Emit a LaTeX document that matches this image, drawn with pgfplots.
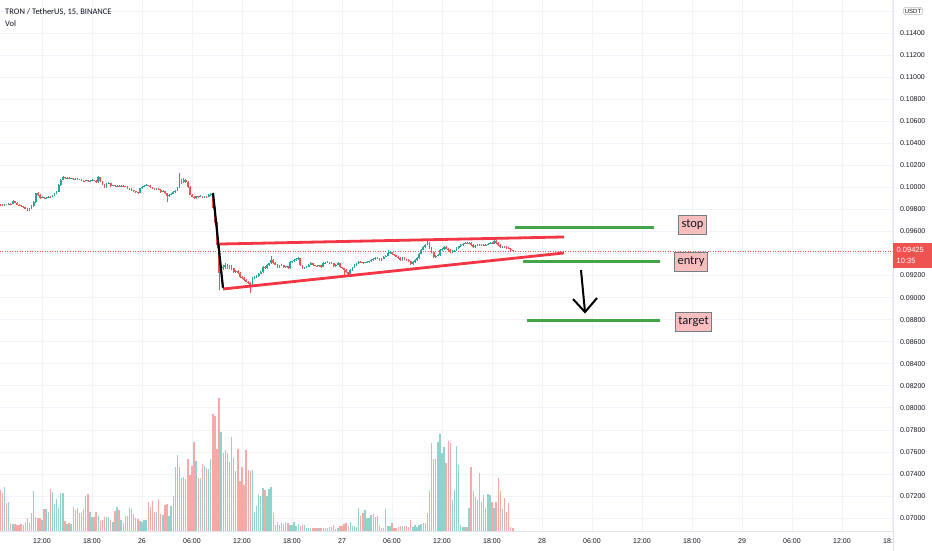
\documentclass[border=0pt]{standalone}
\usepackage{pgfplots}
\pgfplotsset{compat=1.18}
\usepackage{pgfplotstable}
\usepackage{fontspec}
\setmainfont{Liberation Sans}
\newfontfamily\carl{Carlito}
\definecolor{cup}{HTML}{26A69A}
\definecolor{cdn}{HTML}{EF5350}
\definecolor{vup}{RGB}{146,210,204}
\definecolor{vdn}{RGB}{247,169,167}
\definecolor{gridc}{RGB}{240,243,250}
\definecolor{axc}{RGB}{224,227,235}
\definecolor{txt}{RGB}{19,23,34}
\definecolor{tred}{RGB}{242,54,69}
\definecolor{tgreen}{RGB}{67,165,72}
\definecolor{labfill}{RGB}{248,190,190}
\definecolor{labdraw}{RGB}{115,125,130}

\pgfplotstableread{
t o h l c v
7.00 0.09845 0.09850 0.09832 0.09840 41
7.25 0.09840 0.09846 0.09828 0.09835 38
7.50 0.09835 0.09852 0.09830 0.09845 44
7.75 0.09845 0.09850 0.09836 0.09842 28
8.00 0.09842 0.09858 0.09838 0.09850 29
8.25 0.09850 0.09856 0.09843 0.09848 8
8.50 0.09848 0.09884 0.09845 0.09876 7
8.75 0.09876 0.09880 0.09855 0.09860 7
9.00 0.09860 0.09864 0.09838 0.09842 6
9.25 0.09842 0.09848 0.09832 0.09838 6
9.50 0.09838 0.09842 0.09822 0.09828 7
9.75 0.09828 0.09832 0.09814 0.09820 6
10.00 0.09820 0.09826 0.09802 0.09808 9
10.25 0.09808 0.09812 0.09788 0.09795 13
10.50 0.09795 0.09815 0.09790 0.09810 8
10.75 0.09810 0.09836 0.09806 0.09830 18
11.00 0.09830 0.09875 0.09826 0.09868 40
11.25 0.09868 0.09952 0.09862 0.09945 14
11.50 0.09945 0.09955 0.09922 0.09930 13
11.75 0.09930 0.09936 0.09898 0.09905 13
12.00 0.09905 0.09918 0.09900 0.09912 11
12.25 0.09912 0.09916 0.09894 0.09900 22
12.50 0.09900 0.09912 0.09896 0.09906 22
12.75 0.09906 0.09920 0.09902 0.09915 19
13.00 0.09915 0.09922 0.09906 0.09912 42
13.25 0.09912 0.09930 0.09908 0.09925 39
13.50 0.09925 0.09950 0.09920 0.09945 27
13.75 0.09945 0.09968 0.09940 0.09962 32
14.00 0.09962 0.10026 0.09958 0.10020 23
14.25 0.10020 0.10078 0.10015 0.10070 38
14.50 0.10070 0.10100 0.10064 0.10094 38
14.75 0.10094 0.10098 0.10078 0.10085 10
15.00 0.10085 0.10094 0.10080 0.10088 7
15.25 0.10088 0.10092 0.10074 0.10080 8
15.50 0.10080 0.10088 0.10076 0.10082 7
15.75 0.10082 0.10086 0.10068 0.10074 24
16.00 0.10074 0.10084 0.10070 0.10078 21
16.25 0.10078 0.10082 0.10064 0.10070 23
16.50 0.10070 0.10080 0.10066 0.10076 18
16.75 0.10076 0.10080 0.10056 0.10062 18
17.00 0.10062 0.10068 0.10052 0.10058 22
17.25 0.10058 0.10070 0.10054 0.10064 35
17.50 0.10064 0.10068 0.10050 0.10056 37
17.75 0.10056 0.10066 0.10052 0.10060 19
18.00 0.10060 0.10072 0.10056 0.10066 14
18.25 0.10066 0.10070 0.10056 0.10062 14
18.50 0.10062 0.10066 0.10040 0.10048 19
18.75 0.10048 0.10100 0.10044 0.10090 15
19.00 0.10090 0.10094 0.10052 0.10058 10
19.25 0.10058 0.10062 0.10024 0.10030 11
19.50 0.10030 0.10034 0.09996 0.10003 14
19.75 0.10003 0.10040 0.09998 0.10035 14
20.00 0.10035 0.10046 0.10030 0.10040 14
20.25 0.10040 0.10044 0.10006 0.10012 11
20.50 0.10012 0.10024 0.10008 0.10018 9
20.75 0.10018 0.10022 0.10004 0.10010 20
21.00 0.10010 0.10020 0.10005 0.10015 24
21.25 0.10015 0.10018 0.10002 0.10008 21
21.50 0.10008 0.10020 0.10004 0.10014 11
21.75 0.10014 0.10018 0.10004 0.10010 8
22.00 0.10010 0.10014 0.10000 0.10006 15
22.25 0.10006 0.10010 0.09988 0.09994 15
22.50 0.09994 0.09998 0.09978 0.09985 23
22.75 0.09985 0.09990 0.09968 0.09975 22
23.00 0.09975 0.09980 0.09960 0.09965 17
23.25 0.09965 0.09970 0.09952 0.09958 13
23.50 0.09958 0.09962 0.09944 0.09950 12
23.75 0.09950 0.09996 0.09946 0.09990 10
24.00 0.09990 0.10010 0.09986 0.10005 9
24.25 0.10005 0.10018 0.10000 0.10012 11
24.50 0.10012 0.10026 0.10008 0.10020 11
24.75 0.10020 0.10024 0.10010 0.10015 29
25.00 0.10015 0.10018 0.09998 0.10003 24
25.25 0.10003 0.10006 0.09984 0.09990 30
25.50 0.09990 0.09994 0.09980 0.09985 19
25.75 0.09985 0.09994 0.09980 0.09988 19
26.00 0.09988 0.09992 0.09972 0.09978 32
26.25 0.09978 0.09982 0.09950 0.09958 17
26.50 0.09958 0.09972 0.09954 0.09967 16
26.75 0.09967 0.09970 0.09938 0.09945 26
27.00 0.09945 0.09948 0.09867 0.09922 27
27.25 0.09922 0.09940 0.09916 0.09935 15
27.50 0.09935 0.09946 0.09930 0.09940 25
27.75 0.09940 0.09964 0.09936 0.09958 35
28.00 0.09958 0.09976 0.09952 0.09970 64
28.25 0.09970 0.10000 0.09966 0.09994 76
28.50 0.09994 0.10130 0.09990 0.10040 64
28.75 0.10040 0.10080 0.10030 0.10049 53
29.00 0.10049 0.10085 0.10040 0.10067 54
29.25 0.10067 0.10072 0.10040 0.10049 52
29.50 0.10049 0.10054 0.09996 0.10003 72
29.75 0.10003 0.10008 0.09928 0.09935 56
30.00 0.09935 0.09940 0.09908 0.09915 65
30.25 0.09915 0.09920 0.09896 0.09904 89
30.50 0.09904 0.09926 0.09898 0.09920 70
30.75 0.09920 0.09926 0.09906 0.09913 53
31.00 0.09913 0.09928 0.09908 0.09922 53
31.25 0.09922 0.09926 0.09904 0.09910 67
31.50 0.09910 0.09922 0.09906 0.09916 65
31.75 0.09916 0.09920 0.09908 0.09913 63
32.00 0.09913 0.09936 0.09908 0.09930 62
32.25 0.09930 0.09946 0.09926 0.09940 72
32.50 0.09940 0.09944 0.09800 0.09813 117
32.75 0.09813 0.09820 0.09660 0.09677 115
33.00 0.09677 0.09690 0.09450 0.09477 82
33.25 0.09477 0.09490 0.09069 0.09223 133
33.50 0.09223 0.09290 0.09180 0.09268 99
33.75 0.09268 0.09300 0.09250 0.09278 78
34.00 0.09278 0.09310 0.09260 0.09296 81
34.25 0.09296 0.09305 0.09255 0.09270 78
34.50 0.09270 0.09300 0.09262 0.09290 69
34.75 0.09290 0.09296 0.09250 0.09265 94
35.00 0.09265 0.09270 0.09222 0.09232 73
35.25 0.09232 0.09250 0.09225 0.09240 60
35.50 0.09240 0.09248 0.09215 0.09223 82
35.75 0.09223 0.09228 0.09182 0.09190 50
36.00 0.09190 0.09196 0.09172 0.09180 64
36.25 0.09180 0.09185 0.09150 0.09160 46
36.50 0.09160 0.09166 0.09138 0.09145 81
36.75 0.09145 0.09150 0.09120 0.09132 61
37.00 0.09132 0.09140 0.09042 0.09114 60
37.25 0.09114 0.09185 0.09108 0.09178 61
37.50 0.09178 0.09195 0.09170 0.09187 19
37.75 0.09187 0.09202 0.09180 0.09195 25
38.00 0.09195 0.09222 0.09190 0.09215 37
38.25 0.09215 0.09240 0.09210 0.09232 35
38.50 0.09232 0.09285 0.09226 0.09278 43
38.75 0.09278 0.09290 0.09262 0.09270 41
39.00 0.09270 0.09304 0.09264 0.09296 35
39.25 0.09296 0.09318 0.09290 0.09310 42
39.50 0.09310 0.09377 0.09305 0.09341 44
39.75 0.09341 0.09348 0.09308 0.09314 18
40.00 0.09314 0.09320 0.09294 0.09300 6
40.25 0.09300 0.09305 0.09270 0.09278 9
40.50 0.09278 0.09296 0.09272 0.09290 6
40.75 0.09290 0.09302 0.09285 0.09296 8
41.00 0.09296 0.09300 0.09272 0.09278 7
41.25 0.09278 0.09290 0.09272 0.09285 9
41.50 0.09285 0.09290 0.09260 0.09268 8
41.75 0.09268 0.09330 0.09262 0.09323 6
42.00 0.09323 0.09336 0.09318 0.09330 6
42.25 0.09330 0.09348 0.09325 0.09341 9
42.50 0.09341 0.09356 0.09336 0.09350 5
42.75 0.09350 0.09366 0.09345 0.09359 7
43.00 0.09359 0.09362 0.09290 0.09296 5
43.25 0.09296 0.09300 0.09260 0.09268 6
43.50 0.09268 0.09282 0.09262 0.09275 6
43.75 0.09275 0.09284 0.09270 0.09278 3
44.00 0.09278 0.09306 0.09274 0.09300 3
44.25 0.09300 0.09320 0.09296 0.09314 3
44.50 0.09314 0.09318 0.09290 0.09296 3
44.75 0.09296 0.09300 0.09284 0.09290 3
45.00 0.09290 0.09296 0.09282 0.09287 3
45.25 0.09287 0.09300 0.09282 0.09295 3
45.50 0.09295 0.09298 0.09272 0.09278 3
45.75 0.09278 0.09320 0.09274 0.09314 3
46.00 0.09314 0.09324 0.09310 0.09318 3
46.25 0.09318 0.09328 0.09314 0.09323 3
46.50 0.09323 0.09326 0.09305 0.09310 4
46.75 0.09310 0.09320 0.09305 0.09314 4
47.00 0.09314 0.09318 0.09282 0.09287 6
47.25 0.09287 0.09306 0.09282 0.09300 2
47.50 0.09300 0.09320 0.09296 0.09314 3
47.75 0.09314 0.09318 0.09272 0.09278 5
48.00 0.09278 0.09282 0.09258 0.09265 5
48.25 0.09265 0.09270 0.09187 0.09250 7
48.50 0.09250 0.09256 0.09224 0.09230 8
48.75 0.09230 0.09236 0.09205 0.09214 5
49.00 0.09214 0.09256 0.09208 0.09250 9
49.25 0.09250 0.09282 0.09245 0.09275 5
49.50 0.09275 0.09302 0.09270 0.09296 5
49.75 0.09296 0.09316 0.09290 0.09310 4
50.00 0.09310 0.09330 0.09305 0.09323 23
50.25 0.09323 0.09328 0.09314 0.09320 15
50.50 0.09320 0.09326 0.09308 0.09314 18
50.75 0.09314 0.09326 0.09310 0.09320 21
51.00 0.09320 0.09330 0.09316 0.09323 13
51.25 0.09323 0.09336 0.09318 0.09330 13
51.50 0.09330 0.09348 0.09326 0.09341 16
51.75 0.09341 0.09356 0.09336 0.09350 17
52.00 0.09350 0.09366 0.09345 0.09359 14
52.25 0.09359 0.09364 0.09350 0.09355 15
52.50 0.09355 0.09360 0.09336 0.09341 6
52.75 0.09341 0.09356 0.09336 0.09350 3
53.00 0.09350 0.09374 0.09346 0.09368 3
53.25 0.09368 0.09386 0.09364 0.09380 22
53.50 0.09380 0.09432 0.09376 0.09404 5
53.75 0.09404 0.09420 0.09398 0.09414 5
54.00 0.09414 0.09418 0.09390 0.09395 8
54.25 0.09395 0.09400 0.09380 0.09386 3
54.50 0.09386 0.09390 0.09364 0.09370 3
54.75 0.09370 0.09374 0.09352 0.09359 4
55.00 0.09359 0.09364 0.09336 0.09341 5
55.25 0.09341 0.09364 0.09336 0.09359 5
55.50 0.09359 0.09364 0.09345 0.09350 5
55.75 0.09350 0.09354 0.09336 0.09341 5
56.00 0.09341 0.09346 0.09325 0.09330 4
56.25 0.09330 0.09334 0.09298 0.09305 11
56.50 0.09305 0.09330 0.09300 0.09323 4
56.75 0.09323 0.09346 0.09318 0.09340 6
57.00 0.09340 0.09366 0.09335 0.09359 4
57.25 0.09359 0.09406 0.09354 0.09400 6
57.50 0.09400 0.09440 0.09395 0.09432 7
57.75 0.09432 0.09466 0.09428 0.09459 8
58.00 0.09459 0.09486 0.09454 0.09480 8
58.25 0.09480 0.09513 0.09475 0.09495 18
58.50 0.09495 0.09500 0.09444 0.09450 40
58.75 0.09450 0.09455 0.09404 0.09410 88
59.00 0.09410 0.09415 0.09360 0.09368 72
59.25 0.09368 0.09388 0.09362 0.09380 72
59.50 0.09380 0.09394 0.09374 0.09386 89
59.75 0.09386 0.09440 0.09380 0.09432 97
60.00 0.09432 0.09448 0.09426 0.09440 78
60.25 0.09440 0.09466 0.09434 0.09459 84
60.50 0.09459 0.09464 0.09438 0.09445 68
60.75 0.09445 0.09450 0.09426 0.09432 90
61.00 0.09432 0.09438 0.09408 0.09414 88
61.25 0.09414 0.09430 0.09408 0.09423 31
61.50 0.09423 0.09436 0.09418 0.09430 41
61.75 0.09430 0.09456 0.09425 0.09450 85
62.00 0.09450 0.09472 0.09445 0.09465 66
62.25 0.09465 0.09484 0.09460 0.09477 6
62.50 0.09477 0.09496 0.09472 0.09490 4
62.75 0.09490 0.09502 0.09486 0.09495 4
63.00 0.09495 0.09500 0.09482 0.09488 4
63.25 0.09488 0.09502 0.09484 0.09495 23
63.50 0.09495 0.09500 0.09470 0.09477 64
63.75 0.09477 0.09482 0.09452 0.09459 40
64.00 0.09459 0.09476 0.09454 0.09470 34
64.25 0.09470 0.09484 0.09466 0.09477 31
64.50 0.09477 0.09482 0.09466 0.09472 58
64.75 0.09472 0.09484 0.09468 0.09477 29
65.00 0.09477 0.09482 0.09464 0.09470 36
65.25 0.09470 0.09486 0.09466 0.09480 23
65.50 0.09480 0.09492 0.09476 0.09486 37
65.75 0.09486 0.09502 0.09482 0.09495 36
66.00 0.09495 0.09500 0.09484 0.09490 29
66.25 0.09490 0.09520 0.09486 0.09513 23
66.50 0.09513 0.09518 0.09490 0.09495 29
66.75 0.09495 0.09500 0.09470 0.09477 53
67.00 0.09477 0.09482 0.09452 0.09459 40
67.25 0.09459 0.09472 0.09454 0.09465 22
67.50 0.09465 0.09470 0.09452 0.09459 33
67.75 0.09459 0.09464 0.09445 0.09450 19
68.00 0.09450 0.09456 0.09440 0.09445 28
68.25 0.09445 0.09450 0.09426 0.09432 4
68.50 0.09432 0.09436 0.09420 0.09425 3
}\candles

\begin{document}
\begin{tikzpicture}
\useasboundingbox (0pt,-19pt) rectangle (932pt,531pt);
\pgfplotsset{base/.style={width=893pt,height=531pt,scale only axis,
  at={(0pt,0pt)},anchor=south west,xmin=6.96,xmax=114.12}}
\pgfplotsset{up/.style={restrict expr to domain={\thisrow{c}-\thisrow{o}}{0:1}},
  dn/.style={restrict expr to domain={\thisrow{c}-\thisrow{o}}{-1:-0.000000001}}}
% ---------- price axis ----------
\begin{axis}[base, ymin=0.068831, ymax=0.116993,
  axis x line*=bottom, axis y line*=right, axis line style={draw=axc},
  xtick={12,18,...,114},
  xticklabels={12:00,18:00,26,06:00,12:00,18:00,27,06:00,12:00,18:00,28,06:00,12:00,18:00,29,06:00,12:00,18:00},
  ytick={0.070,0.072,0.074,0.076,0.078,0.080,0.082,0.084,0.086,0.088,0.090,0.092,0.094,0.096,0.098,0.100,0.102,0.104,0.106,0.108,0.110,0.112,0.114,0.116},
  yticklabels={},
  grid=major, grid style={draw=gridc, line width=0.8pt},
  major tick length=0pt,
  xticklabel style={font=\fontsize{7}{8}\selectfont, text=txt, yshift=-4pt},
  scaled y ticks=false,
]
\addplot[cdn, line width=0.5pt, dash pattern=on 1pt off 1.5pt] coordinates {(6.96,0.09425) (114.12,0.09425)};
% wicks
\addplot[cup, line width=0.6pt, up, quiver={u=0, v=\thisrow{h}-\thisrow{l}}] table[x=t, y=l] {\candles};
\addplot[cdn, line width=0.6pt, dn, quiver={u=0, v=\thisrow{h}-\thisrow{l}}] table[x=t, y=l] {\candles};
% bodies
\addplot[cup, line width=1.7pt, up, quiver={u=0, v=\thisrow{c}-\thisrow{o}}] table[x=t, y=o] {\candles};
\addplot[cdn, line width=1.7pt, dn, quiver={u=0, v=\thisrow{c}-\thisrow{o}}] table[x=t, y=o] {\candles};
% drawings
\addplot[black, line width=2.2pt] coordinates {(32.52,0.09949) (33.72,0.09087)};
\addplot[tred, line width=2.8pt] coordinates {(33.36,0.09486) (74.64,0.09550)};
\addplot[tred, line width=2.8pt] coordinates {(33.72,0.09078) (74.64,0.09405)};
\addplot[tgreen, line width=3pt] coordinates {(68.76,0.09640) (85.44,0.09640)};
\addplot[tgreen, line width=3pt] coordinates {(69.72,0.09323) (86.16,0.09323)};
\addplot[tgreen, line width=3pt] coordinates {(70.2,0.08788) (86.16,0.08788)};
\addplot[black, line width=2pt] coordinates {(76.68,0.09250) (77.16,0.08869)};
\addplot[black, line width=2pt, line join=miter] coordinates {(75.72,0.08987) (77.16,0.08869) (78.6,0.08996)};
\tikzset{lab/.style={draw=labdraw, line width=1.3pt, fill=labfill, font=\carl\fontsize{12.5}{13}\selectfont, text=txt, inner xsep=3pt, inner ysep=0pt, minimum height=19pt}}
\node[lab] at (axis cs:90.06,0.09659) {stop};
\node[lab] at (axis cs:89.88,0.09323) {entry};
\node[lab] at (axis cs:90.18,0.08779) {target};
\node[anchor=base west, inner xsep=0pt, font=\carl\fontsize{8.5}{10}\selectfont, text=txt] at ([xshift=5pt,yshift=-14.5pt]rel axis cs:0,1) {TRON / TetherUS, 15, BINANCE};
\node[anchor=base west, inner xsep=0pt, font=\carl\fontsize{8.5}{10}\selectfont, text=txt] at ([xshift=5pt,yshift=-26.5pt]rel axis cs:0,1) {Vol};
\coordinate (br) at (rel axis cs:1,0);
\coordinate (tr) at (rel axis cs:1,1);
\coordinate (pbox) at (axis cs:114.12,0.09425);
\end{axis}
% ---------- volume axis ----------
\begin{axis}[base, ymin=0, ymax=531, hide axis]
\addplot[ycomb, vup, line width=1.4pt, up] table[x=t, y=v] {\candles};
\addplot[ycomb, vdn, line width=1.4pt, dn] table[x=t, y=v] {\candles};
\end{axis}
% ---------- price scale ----------
\fill[white] ([xshift=0.5pt,yshift=-20pt]br) rectangle ([xshift=40pt]tr);
\draw[axc, line width=0.8pt] ([yshift=-20pt]br) -- (tr);
\begin{axis}[base, ymin=0.068831, ymax=0.116993,
  hide x axis, axis y line*=right, axis line style={draw=none},
  ytick={0.070,0.072,0.074,0.076,0.078,0.080,0.082,0.084,0.086,0.088,0.090,0.092,0.096,0.098,0.100,0.102,0.104,0.106,0.108,0.110,0.112,0.114},
  major tick length=0pt, scaled y ticks=false,
  yticklabel style={font=\fontsize{7}{8}\selectfont, text=txt, anchor=west, xshift=3.5pt,
    /pgf/number format/.cd, fixed, fixed zerofill, precision=5, assume math mode=true},
]
\addplot[draw=none] coordinates {(10,0.09) (20,0.1)};
\end{axis}
\node[fill=cdn, text=white, anchor=north west, minimum width=39pt, minimum height=25pt,
  inner xsep=3.5pt, inner ysep=2.5pt, align=left, text width=32pt,
  font=\fontsize{7.5}{11}\selectfont] at ([yshift=8pt]pbox) {0.09425\\10:35};
\node[draw=axc!60!gray, line width=0.6pt, rounded corners=2.5pt, fill=white, text=txt,
  font=\fontsize{6}{6}\selectfont, inner xsep=1.5pt, inner ysep=1.5pt] at ([xshift=20pt,yshift=-11pt]tr) {USDT};
\end{tikzpicture}
\end{document}
